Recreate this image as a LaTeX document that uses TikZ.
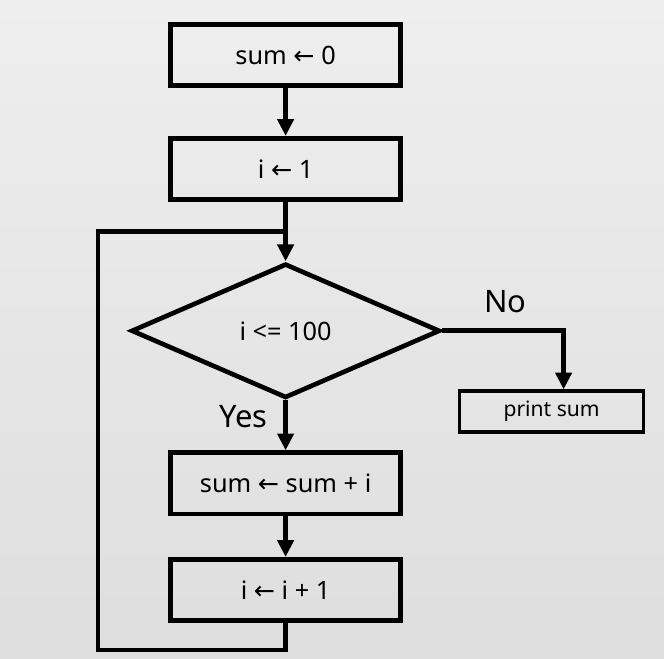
\documentclass[tikz,border=0pt]{standalone}
\usepackage{fontspec}
\setmainfont{Noto Sans}
\newfontfamily\arrowfont{DejaVu Sans}
\usepackage{xcolor}
\usetikzlibrary{shapes.geometric, arrows.meta, positioning}
\definecolor{bgtop}{RGB}{238,238,238}
\definecolor{bgbottom}{RGB}{222,222,222}
\newcommand{\larr}{{\arrowfont ←}}
\tikzstyle{stepbox} = [rectangle, draw, line width=3.3pt, minimum width=5.75cm, minimum height=1.53cm, font=\fontsize{18}{21}\selectfont]
\tikzstyle{decision} = [diamond, draw, line width=3.3pt, minimum width=7.72cm, minimum height=3.36cm, inner sep=0pt, font=\fontsize{18}{21}\selectfont]
\tikzstyle{arrow} = [-{Triangle[length=0.42cm, width=0.4cm]}, line width=3.3pt]
\tikzstyle{line} = [line width=3.3pt]

\begin{document}
\begin{tikzpicture}[node distance=1cm]
                \shade[top color=bgtop, bottom color=bgbottom] (0,0) rectangle (16.6,-16.45);
                \useasboundingbox (0,0) rectangle (16.6,-16.45);
                \node (init) at (7.14,-1.375) [stepbox] {sum \larr{} 0};
                \node (start) [stepbox, below=1.2cm of init] {i \larr{} 1};
                \node (test) at (7.14,-8.27) [decision] {i <= 100};
                \node (add) [stepbox, below=1.25cm of test] {sum \larr{} sum + i};
                \node (incr) [stepbox, below=1.02cm of add] {i \larr{} i + 1};
                \node (print) at (13.79,-10.29) [rectangle, draw, line width=2.6pt, minimum width=4.6cm, minimum height=1.02cm, font=\fontsize{15}{18}\selectfont] {print sum};
                \node (yes) at (6.08,-10.42) [font=\fontsize{22}{26}\selectfont] {Yes};
                \node (no) at (12.63,-7.55) [font=\fontsize{22}{26}\selectfont] {No};
                \coordinate (join) at (7.14,-5.78);
                \coordinate (low) at (7.14,-16.25);
                \draw[arrow] (init) -- (start);
                \draw[arrow] (start) -- (test);
                \draw[arrow] (test) -- (add);
                \draw[arrow] (add) -- (incr);
                \draw[arrow] (test.east) -| ([xshift=0.3cm]print.north);
                \draw[line] (incr.south) -- (low) -| (2.45,-5.78) -- (join);
            \end{tikzpicture}
\end{document}
